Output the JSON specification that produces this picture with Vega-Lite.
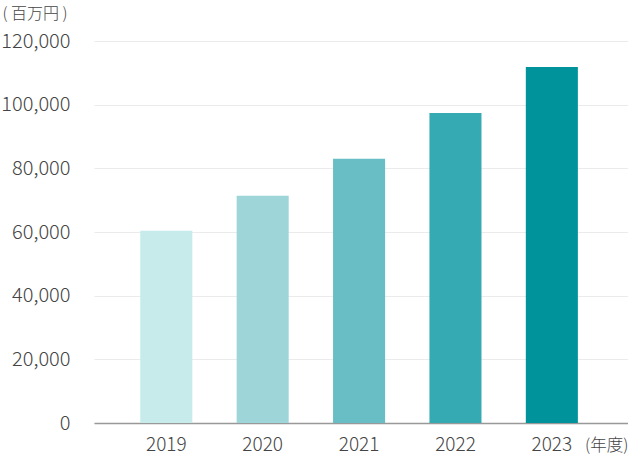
{
  "$schema": "https://vega.github.io/schema/vega-lite/v6.json",
  "autosize": {"type": "none"},
  "padding": {"left": 94, "top": 41, "right": 0, "bottom": 33},
  "width": 534,
  "height": 382,
  "background": "#ffffff",
  "data": {"values": [
    {"year": "2019", "value": 60400},
    {"year": "2020", "value": 71400},
    {"year": "2021", "value": 83000},
    {"year": "2022", "value": 97400},
    {"year": "2023", "value": 111800}
  ]},
  "config": {
    "view": {"stroke": null},
    "font": "Noto Sans CJK JP"
  },
  "mark": {"type": "bar"},
  "encoding": {
    "x": {
      "field": "year", "type": "nominal",
      "scale": {"paddingInner": 0.46, "paddingOuter": 0.5, "align": 0.48},
      "axis": {
        "title": "(年度)", "titleFontSize": 16.5, "titleFontWeight": 300, "titleColor": "#444444",
        "titleX": 534, "titleY": 14, "titleAnchor": "end", "titleAlign": "right", "titleBaseline": "top",
        "labelAngle": 0, "labelFontSize": 19, "labelFontWeight": 300, "labelColor": "#444444", "labelPadding": 12,
        "ticks": false, "domainColor": "#999999", "domainWidth": 1.5, "grid": false
      }
    },
    "y": {
      "field": "value", "type": "quantitative",
      "scale": {"domain": [0, 120000]},
      "axis": {
        "values": [0, 20000, 40000, 60000, 80000, 100000, 120000],
        "format": ",d",
        "title": "( 百万円 )", "titleAngle": 0, "titleFontSize": 16, "titleFontWeight": 300, "titleColor": "#444444",
        "titleX": -92, "titleY": -36, "titleAlign": "left", "titleBaseline": "top", "titleAnchor": "start",
        "labelFontSize": 20, "labelFontWeight": 300, "labelColor": "#444444", "labelPadding": 24,
        "ticks": false, "domain": false, "grid": true, "gridColor": "#ebebeb", "gridWidth": 1
      }
    },
    "color": {
      "field": "year", "type": "nominal",
      "scale": {"range": ["#c7eaeb", "#9dd5d9", "#68bec4", "#36aab3", "#00939b"]},
      "legend": null
    }
  }
}
